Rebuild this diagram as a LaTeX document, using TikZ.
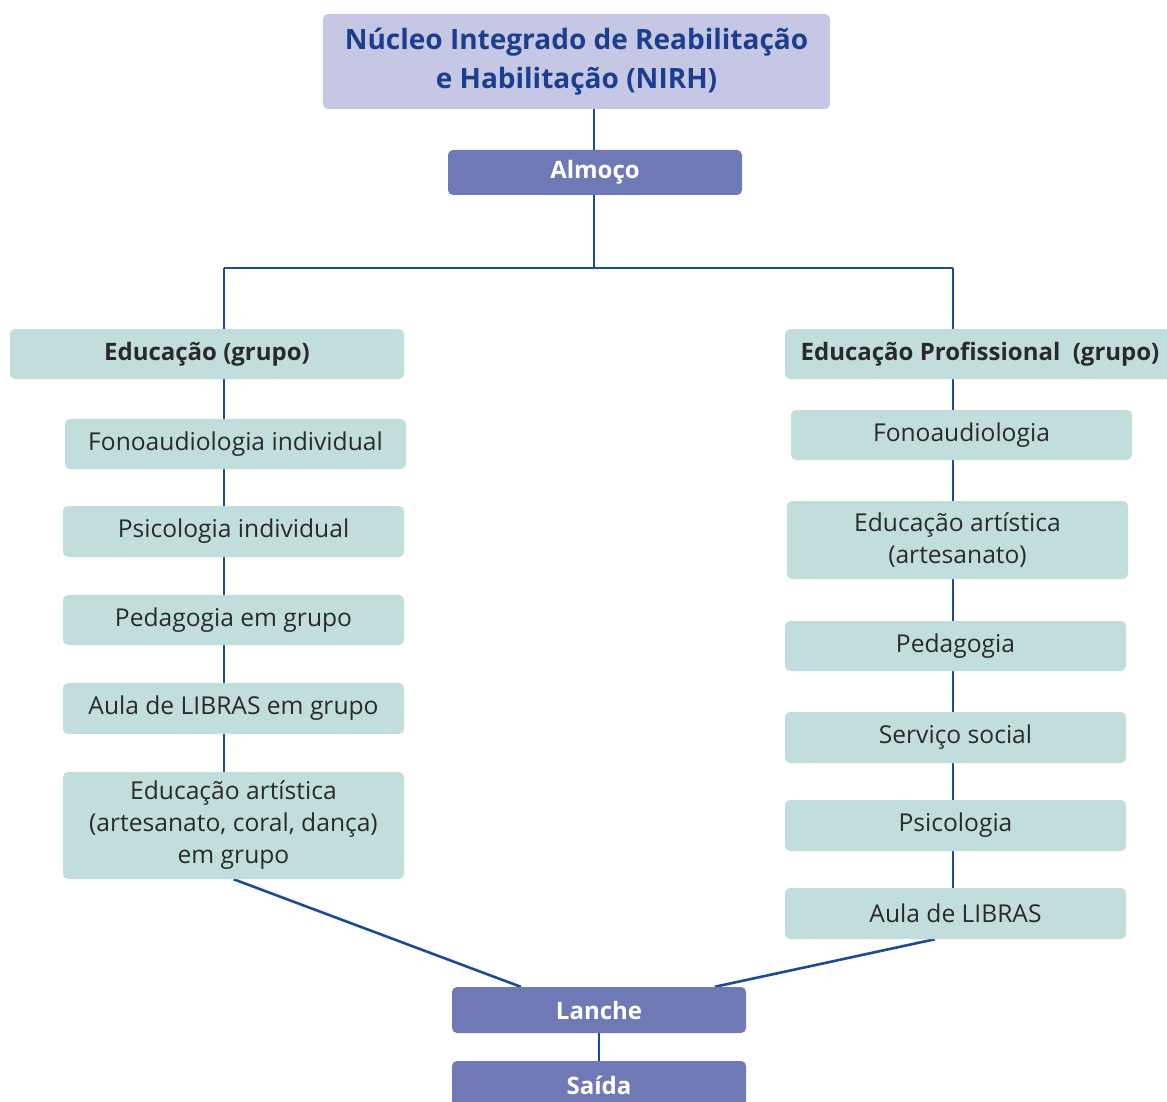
\documentclass[tikz,border=0pt]{standalone}
\usepackage{fontspec}
\setmainfont{Open Sans}
\usetikzlibrary{backgrounds,calc}
\definecolor{lav}{HTML}{C6C7E4}
\definecolor{purp}{HTML}{6E79B6}
\definecolor{teal}{HTML}{C2DEDC}
\definecolor{navy}{HTML}{1B3F8E}
\definecolor{linec}{HTML}{1A4A9A}
\definecolor{txt}{HTML}{2A2A2A}
\tikzset{
  x=1pt, y=-1pt,
  base/.style={rounded corners=5pt, inner sep=0pt, align=center, font=\fontsize{24.6}{32}\selectfont, text=txt},
  tbox/.style={base, fill=teal, minimum height=50pt, minimum width=341pt},
  hbox/.style={base, fill=teal, minimum height=50pt, font=\fontsize{24}{32}\selectfont\bfseries},
  pbox/.style={base, fill=purp, minimum width=294pt, minimum height=46pt, text=white, font=\fontsize{24}{32}\selectfont\bfseries},
  conn/.style={draw=linec, line width=2.6pt},
}
\begin{document}
\begin{tikzpicture}
\useasboundingbox (0,0) rectangle (1167,1102);
% nodes
\node[base, fill=lav, minimum width=507pt, minimum height=95pt, text=navy, font=\fontsize{28}{39}\selectfont\bfseries] (top) at (576.5,61.5) {Núcleo Integrado de Reabilitação\\e Habilitação (NIRH)};
\node[pbox, minimum height=45pt] (almoco) at (595,172.5) {Almoço};
\node[hbox, minimum width=394pt] (edu) at (207,354) {Educação (grupo)};
\node[tbox] (l1) at (235.5,444) {Fonoaudiologia individual};
\node[tbox, minimum height=51pt] (l2) at (233.5,531.5) {Psicologia individual};
\node[tbox] (l3) at (233.5,620) {Pedagogia em grupo};
\node[tbox, minimum height=51pt] (l4) at (233.5,708.5) {Aula de LIBRAS em grupo};
\node[tbox, minimum height=107pt] (l5) at (233.5,825.5) {Educação artística\\(artesanato, coral, dança)\\em grupo};
\node[hbox, minimum width=390pt] (prof) at (980,354) {Educação Profissional\ \ (grupo)};
\node[tbox] (r1) at (961.5,435) {Fonoaudiologia};
\node[tbox, minimum height=78pt] (r2) at (957.5,540) {Educação artística\\(artesanato)};
\node[tbox] (r3) at (955.5,646) {Pedagogia};
\node[tbox, minimum height=51pt] (r4) at (955.5,737.5) {Serviço social};
\node[tbox, minimum height=51pt] (r5) at (955.5,825.5) {Psicologia};
\node[tbox, minimum height=51pt] (r6) at (955.5,913.5) {Aula de LIBRAS};
\node[pbox] (lanche) at (599,1010) {Lanche};
\node[pbox, minimum height=48pt] (saida) at (599,1085) {Saída};
\coordinate (jl) at (224,268);
\coordinate (jr) at (953,268);
\coordinate (jm) at (594,268);
% connectors
\begin{scope}[on background layer]
\draw[conn] (top.south -| jm) -- (jm);
\draw[conn] (jl) -- (jr);
\draw[conn] (jl) -- (jl |- l5.center);
\draw[conn] (jr) -- (jr |- r6.center);
\draw[conn] (l5.south) -- ($(lanche.north west)+(69,0)$);
\draw[conn] ($(r6.south)+(-20.5,0)$) -- ($(lanche.north west)+(263,0)$);
\draw[conn] (lanche.south) -- (saida.north);
\end{scope}
\end{tikzpicture}
\end{document}
